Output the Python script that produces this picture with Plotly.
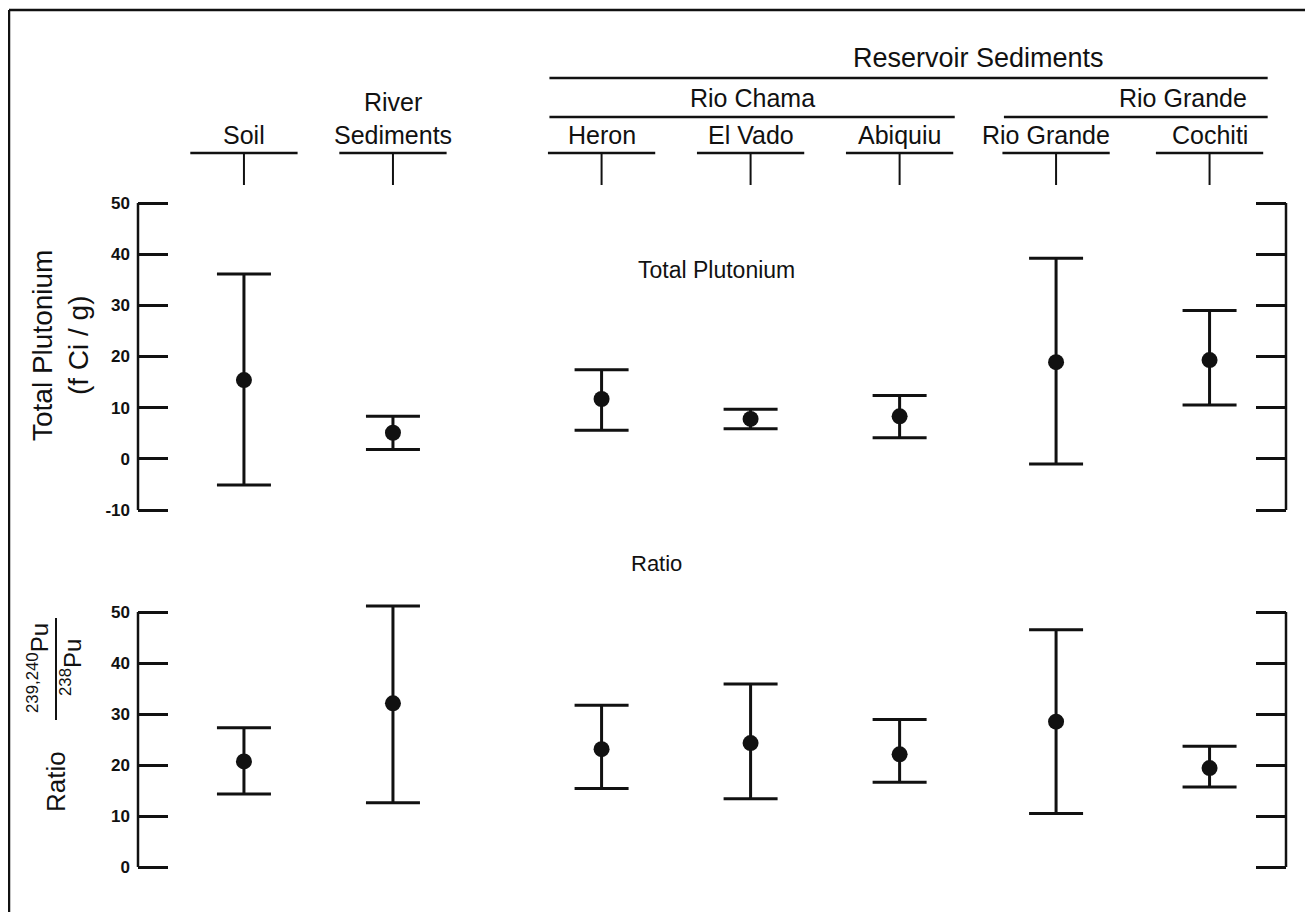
import plotly.graph_objects as go

# ---------------- data ----------------
categories = ["Soil", "River<br>Sediments", "Heron", "El Vado", "Abiquiu", "Rio Grande", "Cochiti"]

# Total plutonium (fCi/g): mean and error-bar limits
pu_mean = [15.4, 5.1, 11.7, 7.8, 8.3, 18.9, 19.3]
pu_upper = [36.1, 8.3, 17.4, 9.7, 12.4, 39.2, 29.0]
pu_lower = [-5.1, 1.8, 5.6, 5.9, 4.1, -1.0, 10.5]

# 239,240Pu / 238Pu ratio: mean and error-bar limits
ratio_mean = [20.7, 32.1, 23.1, 24.3, 22.1, 28.5, 19.4]
ratio_upper = [27.3, 51.2, 31.7, 35.9, 28.9, 46.5, 23.7]
ratio_lower = [14.3, 12.6, 15.4, 13.4, 16.6, 10.5, 15.7]

top_ticks = [-10, 0, 10, 20, 30, 40, 50]
bottom_ticks = [0, 10, 20, 30, 40, 50]

# ---------------- layout helpers (page pixel coordinates) ----------------
OFF = 8                      # default body margin of the html page
W, H = 1313, 920
L, R = 138, 1286             # plot area x extent on the page
T, B = 188, 882              # plot area y extent on the page
x_pos = [0, 1, 2.4, 3.4, 4.4, 5.45, 6.48]   # horizontal slots of the categories
x_range = [-0.711, 6.993]


def py(p):  # page pixel y -> paper y
    return (B - p) / (B - T)


def px(p):  # page pixel x -> paper x
    return (p - L) / (R - L)


def y_axis_geom(v_top, p_top, v_bot, p_bot, pix_top, pix_bot):
    k = (p_bot - p_top) / (v_top - v_bot)
    val = lambda p: v_top - (p - p_top) / k
    return dict(domain=[py(pix_bot), py(pix_top)], range=[val(pix_bot), val(pix_top)])


FONT = "Liberation Sans, Arial, sans-serif"
BLACK = "#111111"

fig = go.Figure()


def add_series(mean, upper, lower, yaxis):
    fig.add_trace(go.Scatter(
        x=x_pos, y=mean, yaxis=yaxis, mode="markers",
        marker=dict(size=16, color=BLACK),
        error_y=dict(type="data", symmetric=False,
                     array=[u - m for u, m in zip(upper, mean)],
                     arrayminus=[m - lo for m, lo in zip(mean, lower)],
                     color=BLACK, thickness=3, width=27),
        cliponaxis=False, showlegend=False, hoverinfo="skip"))


add_series(pu_mean, pu_upper, pu_lower, "y")
add_series(ratio_mean, ratio_upper, ratio_lower, "y2")

axis_common = dict(showline=False, mirror="ticks",
                   ticks="inside", ticklen=30, tickwidth=2.5, tickcolor=BLACK,
                   ticklabelstandoff=7,
                   showgrid=False, zeroline=False,
                   tickfont=dict(family=FONT, size=17, color=BLACK, weight="bold"))

fig.update_layout(
    width=W - 2 * OFF, height=H - 2 * OFF,
    margin=dict(l=L - OFF, r=(W - 2 * OFF) - (R - OFF), t=T - OFF, b=(H - 2 * OFF) - (B - OFF), pad=0),
    paper_bgcolor="white", plot_bgcolor="white",
    xaxis=dict(range=x_range, showticklabels=False, ticks="", showline=False,
               showgrid=False, zeroline=False),
    yaxis=dict(tickvals=top_ticks, ticktext=[str(v) for v in top_ticks],
               **y_axis_geom(50, 203, -10, 510, T, 528), **axis_common),
    yaxis2=dict(anchor="x", tickvals=bottom_ticks, ticktext=[str(v) for v in bottom_ticks],
                **y_axis_geom(50, 612, 0, 867, 590, B), **axis_common),
)

shapes = []
annotations = []

# axis lines (left and right) spanning exactly the tick range
for yref, lo, hi in (("y", -10, 50), ("y2", 0, 50)):
    for xx in (0, 1):
        shapes.append(dict(type="line", xref="paper", yref=yref, x0=xx, x1=xx, y0=lo, y1=hi,
                           line=dict(color=BLACK, width=2.5)))

# outer frame (left and top edges of the scanned figure)
shapes.append(dict(type="line", xref="paper", yref="paper", x0=px(9), x1=px(1313), y0=py(10), y1=py(10),
                   line=dict(color=BLACK, width=2.5)))
shapes.append(dict(type="line", xref="paper", yref="paper", x0=px(9), x1=px(9), y0=py(10), y1=py(920),
                   line=dict(color=BLACK, width=2.5)))

# category header lines + ticks
half = 0.36
for xp in x_pos:
    shapes.append(dict(type="line", xref="x", yref="paper", x0=xp - half, x1=xp + half,
                       y0=py(153), y1=py(153), line=dict(color=BLACK, width=2.5)))
    shapes.append(dict(type="line", xref="x", yref="paper", x0=xp, x1=xp,
                       y0=py(153), y1=py(185), line=dict(color=BLACK, width=2)))

# group lines
left_res = x_pos[2] - 0.35
right_res = x_pos[6] + 0.39
shapes.append(dict(type="line", xref="x", yref="paper", x0=left_res, x1=right_res,
                   y0=py(78), y1=py(78), line=dict(color=BLACK, width=2.5)))
shapes.append(dict(type="line", xref="x", yref="paper", x0=left_res, x1=x_pos[4] + 0.37,
                   y0=py(117), y1=py(117), line=dict(color=BLACK, width=2.5)))
shapes.append(dict(type="line", xref="x", yref="paper", x0=x_pos[5] - 0.35, x1=right_res,
                   y0=py(117), y1=py(117), line=dict(color=BLACK, width=2.5)))

HFS = 25


def ann(x, y, text, size, xref="paper", angle=0):
    annotations.append(dict(x=x, y=y, xref=xref, yref="paper", text=text, showarrow=False,
                            xanchor="center", yanchor="middle", textangle=angle,
                            font=dict(family=FONT, size=size, color=BLACK)))


label_shift = [0, 0, 0, 0, 0, -0.07, 0]
for xp, name, sh in zip(x_pos, categories, label_shift):
    annotations.append(dict(x=xp + sh, y=py(151), xref="x", yref="paper", text=name,
                            showarrow=False, yanchor="bottom", xanchor="center",
                            font=dict(family=FONT, size=HFS, color=BLACK)))

ann(3.41, py(98), "Rio Chama", HFS, xref="x")
ann(6.3, py(98), "Rio Grande", HFS, xref="x")
ann(4.93, py(58), "Reservoir Sediments", 27, xref="x")

# panel labels
ann(px(716), py(270), "Total Plutonium", 23)
ann(px(656), py(563), "Ratio", 22)

# axis titles
ann(px(60), py(346), "Total Plutonium<br>(f Ci / g)", 28, angle=-90)
ann(px(56), py(782), "Ratio", 26, angle=-90)
ann(px(38), py(668), "<sup>239,240</sup>Pu", 24, angle=-90)
ann(px(71), py(668), "<sup>238</sup>Pu", 24, angle=-90)
shapes.append(dict(type="line", xref="paper", yref="paper", x0=px(56), x1=px(56),
                   y0=py(618), y1=py(720), line=dict(color=BLACK, width=2)))

fig.update_layout(shapes=shapes, annotations=annotations)
fig.write_html("out.html")
